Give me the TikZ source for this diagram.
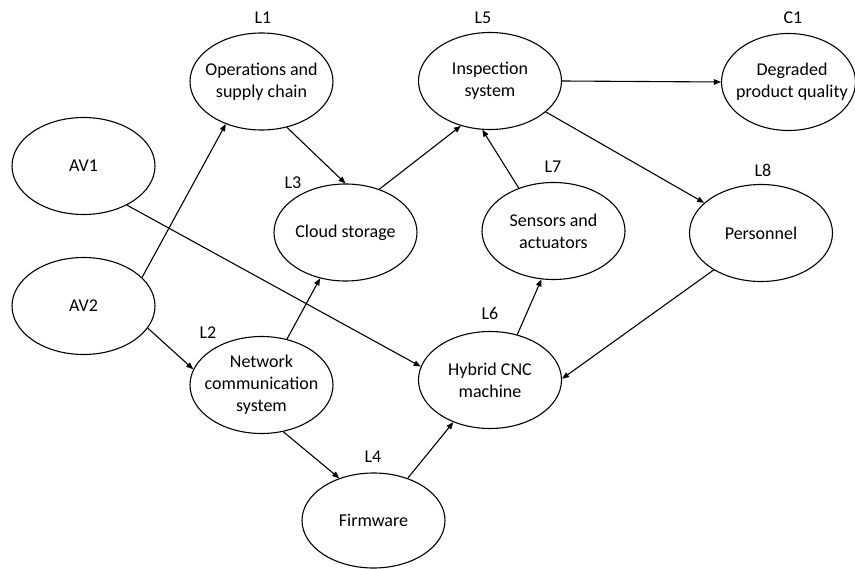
\documentclass[tikz,border=0pt]{standalone}
\usepackage{fontspec}
\setmainfont{Carlito}
\usetikzlibrary{shapes.geometric,arrows.meta}
\tikzset{
  ell/.style={draw, ellipse, line width=1.1pt, minimum width=143pt, minimum height=97pt, inner sep=0pt},
  txt/.style={align=center, font=\fontsize{18}{22}\selectfont, inner sep=0pt},
  lab/.style={font=\fontsize{18}{22}\selectfont, inner sep=0pt},
  arr/.style={line width=1.1pt, -{Triangle[length=7pt,width=5.5pt]}}
}
\begin{document}
\begin{tikzpicture}[x=1pt,y=-1pt]
\useasboundingbox (0,0) rectangle (855,569);
\clip (0,0) rectangle (855,569);
% ellipses
\node[ell] (AV1) at (83.5,166) {};
\node[ell] (AV2) at (83.5,306) {};
\node[ell] (L1) at (261.5,81.5) {};
\node[ell] (L3) at (345.5,232.5) {};
\node[ell] (L5) at (490,81) {};
\node[ell, minimum width=134pt] (C1) at (788.5,82) {};
\node[ell] (L7) at (553.5,231) {};
\node[ell] (L8) at (761,233) {};
\node[ell] (L2) at (261.5,385) {};
\node[ell] (L6) at (490,380) {};
\node[ell, minimum height=95pt] (L4) at (373.5,520.5) {};
% texts
\node[txt] (tAV1) at (AV1) {AV1};
\node[txt] (tAV2) at (AV2) {AV2};
\node[txt] (tL1) at (L1) {Operations and\\supply chain};
\node[txt] (tL3) at (L3) {Cloud storage};
\node[txt] (tL5) at (L5) {Inspection\\system};
\node[txt] (tC1) at (792,82) {Degraded\\product quality};
\node[txt] (tL7) at (L7) {Sensors and\\actuators};
\node[txt] (tL8) at (L8) {Personnel};
\node[txt] (tL2) at (L2) {Network\\communication\\system};
\node[txt] (tL6) at (L6) {Hybrid CNC\\machine};
\node[txt] (tL4) at (L4) {Firmware};
% labels
\node[lab] (lL1) at (263,18) {L1};
\node[lab] (lL3) at (293,183) {L3};
\node[lab] (lL2) at (208,333) {L2};
\node[lab] (lL4) at (373,457) {L4};
\node[lab] (lL5) at (483,18) {L5};
\node[lab] (lC1) at (793,18) {C1};
\node[lab] (lL7) at (553,167) {L7};
\node[lab] (lL8) at (763,170) {L8};
\node[lab] (lL6) at (490,313) {L6};
% connectors
\draw[arr] (AV2.26) -- (L1.-130);
\draw[arr] (AV1.-42.6) -- (L6.169);
\draw[arr] (AV2.-19) -- (L2.167);
\draw[arr] (L1.-61) -- (L3.90);
\draw[arr] (L2.61.5) -- (L3.-119);
\draw[arr] (L3.52) -- (L5.-123);
\draw[arr] (L2.-65.4) -- (L4.129);
\draw[arr] (L4.51.7) -- (L6.-131.5);
\draw[arr] (L6.59) -- (L7.-104);
\draw[arr] (L7.129) -- (L5.-99);
\draw[arr] (L5.0) -- (C1.180);
\draw[arr] (L5.-29) -- (L8.152);
\draw[arr] (L8.-142) -- (L6.1.6);
\end{tikzpicture}
\end{document}
